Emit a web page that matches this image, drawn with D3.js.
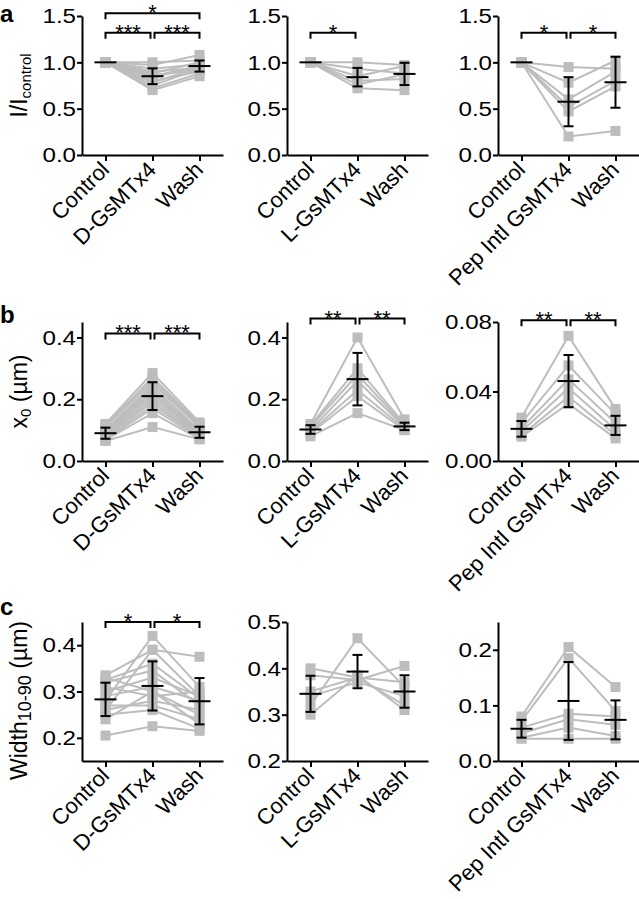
<!DOCTYPE html>
<html>
<head>
<meta charset="utf-8">
<script src="https://cdn.jsdelivr.net/npm/d3@7"></script>
<style>
  body { margin: 0; background: #fff; }
  svg { display: block; font-family: "Liberation Sans", Arial, sans-serif; }
</style>
</head>
<body>
<svg id="fig" width="639" height="899"></svg>
<script>
// categories
const catsD = ["Control", "D-GsMTx4", "Wash"];
const catsL = ["Control", "L-GsMTx4", "Wash"];
const catsP = ["Control", "Pep Intl GsMTx4", "Wash"];

// row a: I / I control
const aDControl = [1, 1, 1, 1, 1, 1, 1, 1, 1, 1, 1, 1, 1];
const aDToxin = [1.0, 0.97, 0.93, 0.90, 0.88, 0.86, 0.85, 0.83, 0.80, 0.78, 0.75, 0.72, 0.70];
const aDWash = [1.02, 1.08, 0.98, 0.94, 1.0, 0.92, 0.96, 0.97, 0.90, 0.95, 0.93, 0.88, 0.85];
const aDMean = [1.0, 0.85, 0.96];
const aDSd = [0, 0.085, 0.06];

const aLControl = [1, 1, 1, 1, 1, 1];
const aLToxin = [1.0, 0.93, 0.85, 0.80, 0.76, 0.72];
const aLWash = [0.97, 0.88, 0.96, 0.82, 0.87, 0.70];
const aLMean = [1.0, 0.84, 0.875];
const aLSd = [0, 0.10, 0.12];

const aPControl = [1, 1, 1, 1, 1, 1];
const aPToxin = [0.95, 0.78, 0.60, 0.52, 0.47, 0.20];
const aPWash = [0.93, 1.02, 0.90, 0.80, 0.74, 0.26];
const aPMean = [1.0, 0.575, 0.785];
const aPSd = [0, 0.265, 0.275];

// row b: x0 (um)
const bDControl = [0.12, 0.115, 0.11, 0.10, 0.095, 0.09, 0.09, 0.085, 0.08, 0.08, 0.075, 0.07, 0.068, 0.065];
const bDToxin = [0.285, 0.27, 0.26, 0.25, 0.24, 0.23, 0.22, 0.21, 0.20, 0.19, 0.18, 0.17, 0.155, 0.11];
const bDWash = [0.125, 0.12, 0.115, 0.11, 0.10, 0.095, 0.09, 0.09, 0.085, 0.08, 0.08, 0.075, 0.072, 0.07];
const bDMean = [0.09, 0.21, 0.093];
const bDSd = [0.018, 0.045, 0.018];

const bLControl = [0.12, 0.115, 0.11, 0.10, 0.095, 0.09, 0.08];
const bLToxin = [0.40, 0.30, 0.28, 0.26, 0.23, 0.21, 0.155];
const bLWash = [0.135, 0.12, 0.115, 0.11, 0.105, 0.10, 0.10];
const bLMean = [0.102, 0.265, 0.112];
const bLSd = [0.014, 0.085, 0.012];

const bPControl = [0.025, 0.022, 0.019, 0.017, 0.015, 0.014];
const bPToxin = [0.072, 0.055, 0.047, 0.042, 0.037, 0.033];
const bPWash = [0.030, 0.027, 0.022, 0.018, 0.015, 0.013];
const bPMean = [0.0185, 0.046, 0.0205];
const bPSd = [0.0045, 0.015, 0.0055];

// row c: Width 10-90 (um)
const cDControl = [0.205, 0.24, 0.25, 0.26, 0.26, 0.27, 0.28, 0.29, 0.30, 0.31, 0.32, 0.325, 0.33, 0.335];
const cDToxin = [0.225, 0.30, 0.26, 0.39, 0.28, 0.27, 0.42, 0.31, 0.33, 0.29, 0.345, 0.36, 0.30, 0.39];
const cDWash = [0.215, 0.25, 0.22, 0.375, 0.26, 0.24, 0.31, 0.28, 0.29, 0.30, 0.27, 0.285, 0.23, 0.29];
const cDMean = [0.283, 0.312, 0.279];
const cDSd = [0.036, 0.053, 0.05];

const cLControl = [0.30, 0.32, 0.34, 0.35, 0.385, 0.40];
const cLToxin = [0.385, 0.465, 0.37, 0.38, 0.375, 0.38];
const cLWash = [0.31, 0.36, 0.34, 0.32, 0.405, 0.37];
const cLMean = [0.345, 0.393, 0.35];
const cLSd = [0.039, 0.036, 0.035];

const cPControl = [0.08, 0.072, 0.06, 0.05, 0.042, 0.04];
const cPToxin = [0.205, 0.185, 0.085, 0.075, 0.06, 0.04];
const cPWash = [0.133, 0.09, 0.08, 0.065, 0.045, 0.04];
const cPMean = [0.058, 0.108, 0.074];
const cPSd = [0.016, 0.07, 0.035];

// tick values
const ticksA = [0, 0.5, 1.0, 1.5];
const ticksB = [0, 0.2, 0.4];
const ticksBP = [0, 0.04, 0.08];
const ticksCD = [0.2, 0.3, 0.4];
const ticksCL = [0.2, 0.3, 0.4, 0.5];
const ticksCP = [0, 0.1, 0.2];

// significance brackets (level in data units)
const sigAD = [{ from: 0, to: 2, level: 1.53, label: "*" }, { from: 0, to: 1, level: 1.32, label: "***" }, { from: 1, to: 2, level: 1.32, label: "***" }];
const sigAL = [{ from: 0, to: 1, level: 1.32, label: "*" }];
const sigAP = [{ from: 0, to: 1, level: 1.32, label: "*" }, { from: 1, to: 2, level: 1.32, label: "*" }];
const sigBD = [{ from: 0, to: 1, level: 0.413, label: "***" }, { from: 1, to: 2, level: 0.413, label: "***" }];
const sigBL = [{ from: 0, to: 1, level: 0.461, label: "**" }, { from: 1, to: 2, level: 0.461, label: "**" }];
const sigBP = [{ from: 0, to: 1, level: 0.081, label: "**" }, { from: 1, to: 2, level: 0.081, label: "**" }];
const sigCD = [{ from: 0, to: 1, level: 0.45, label: "*" }, { from: 1, to: 2, level: 0.45, label: "*" }];

const panels = [
  { row: 0, col: 0, cats: catsD, vals: [aDControl, aDToxin, aDWash], mean: aDMean, sd: aDSd, domain: [0, 1.5], ticks: ticksA, fmt: ".1f", sig: sigAD },
  { row: 0, col: 1, cats: catsL, vals: [aLControl, aLToxin, aLWash], mean: aLMean, sd: aLSd, domain: [0, 1.5], ticks: ticksA, fmt: ".1f", sig: sigAL },
  { row: 0, col: 2, cats: catsP, vals: [aPControl, aPToxin, aPWash], mean: aPMean, sd: aPSd, domain: [0, 1.5], ticks: ticksA, fmt: ".1f", sig: sigAP },
  { row: 1, col: 0, cats: catsD, vals: [bDControl, bDToxin, bDWash], mean: bDMean, sd: bDSd, domain: [0, 0.45], ticks: ticksB, fmt: ".1f", sig: sigBD },
  { row: 1, col: 1, cats: catsL, vals: [bLControl, bLToxin, bLWash], mean: bLMean, sd: bLSd, domain: [0, 0.45], ticks: ticksB, fmt: ".1f", sig: sigBL },
  { row: 1, col: 2, cats: catsP, vals: [bPControl, bPToxin, bPWash], mean: bPMean, sd: bPSd, domain: [0, 0.08], ticks: ticksBP, fmt: ".2f", sig: sigBP },
  { row: 2, col: 0, cats: catsD, vals: [cDControl, cDToxin, cDWash], mean: cDMean, sd: cDSd, domain: [0.15, 0.45], ticks: ticksCD, fmt: ".1f", sig: sigCD },
  { row: 2, col: 1, cats: catsL, vals: [cLControl, cLToxin, cLWash], mean: cLMean, sd: cLSd, domain: [0.2, 0.5], ticks: ticksCL, fmt: ".1f", sig: [] },
  { row: 2, col: 2, cats: catsP, vals: [cPControl, cPToxin, cPWash], mean: cPMean, sd: cPSd, domain: [0, 0.25], ticks: ticksCP, fmt: ".1f", sig: [] }
];

// layout
const colX = [82, 287, 498];
const plotW = 141;
const rowTop = [16, 322, 622];
const rowBottom = [155, 461, 761];
const grey = "#bdbdbd";

const svg = d3.select("#fig");

panels.forEach((p) => {
  const left = colX[p.col];
  const top = rowTop[p.row];
  const bottom = rowBottom[p.row];

  const x = d3.scalePoint().domain(p.cats).range([left, left + plotW]).padding(0.5);
  const y = d3.scaleLinear().domain(p.domain).range([bottom, top]);

  const g = svg.append("g");

  // paired lines
  const n = p.vals[0].length;
  const line = d3.line().x((d) => x(d.cat)).y((d) => y(d.v));
  for (let i = 0; i < n; i++) {
    const pts = p.cats.map((cat, j) => ({ cat, v: p.vals[j][i] }));
    g.append("path")
      .attr("d", line(pts))
      .attr("fill", "none")
      .attr("stroke", grey)
      .attr("stroke-width", 2);
  }

  // squares
  p.cats.forEach((cat, j) => {
    g.append("g")
      .selectAll("rect")
      .data(p.vals[j])
      .enter()
      .append("rect")
      .attr("x", x(cat) - 5)
      .attr("y", (d) => y(d) - 5)
      .attr("width", 10)
      .attr("height", 10)
      .attr("fill", grey);
  });

  // mean +/- sd
  p.cats.forEach((cat, j) => {
    const cx = x(cat);
    const m = p.mean[j];
    const s = p.sd[j];
    const eg = g.append("g").attr("stroke", "#000").attr("stroke-width", 2);
    eg.append("line").attr("x1", cx - 11).attr("x2", cx + 11).attr("y1", y(m)).attr("y2", y(m));
    if (s > 0) {
      eg.append("line").attr("x1", cx).attr("x2", cx).attr("y1", y(m - s)).attr("y2", y(m + s));
      eg.append("line").attr("x1", cx - 5).attr("x2", cx + 5).attr("y1", y(m - s)).attr("y2", y(m - s));
      eg.append("line").attr("x1", cx - 5).attr("x2", cx + 5).attr("y1", y(m + s)).attr("y2", y(m + s));
    }
  });

  // y axis
  const ya = g.append("g")
    .attr("transform", `translate(${left},0)`)
    .call(d3.axisLeft(y).tickValues(p.ticks).tickFormat(d3.format(p.fmt)).tickSize(5).tickSizeOuter(0));
  ya.select(".domain").attr("stroke-width", 2);
  ya.selectAll(".tick line").attr("stroke-width", 2);
  ya.selectAll(".tick text")
    .attr("font-size", 21)
    .attr("font-family", "Liberation Sans, Arial, sans-serif")
    .attr("fill", "#000")
    .attr("x", -6 / 1.15)
    .attr("transform", "scale(1.15,1)");

  // x axis
  const xa = g.append("g")
    .attr("transform", `translate(0,${bottom})`)
    .call(d3.axisBottom(x).tickSize(6).tickSizeOuter(0).tickFormat(""));
  xa.select(".domain").attr("stroke-width", 2);
  xa.selectAll(".tick line").attr("stroke-width", 2);

  p.cats.forEach((cat) => {
    g.append("text")
      .attr("transform", `translate(${x(cat) + 5},${bottom + 16}) rotate(-45)`)
      .attr("text-anchor", "end")
      .attr("font-size", 22)
      .text(cat);
  });

  // significance brackets
  p.sig.forEach((s) => {
    let x1 = x(p.cats[s.from]);
    let x2 = x(p.cats[s.to]);
    if (s.to - s.from === 1) {
      if (s.from === 1) x1 += 2;
      if (s.to === 1) x2 -= 2;
    }
    const by = y(s.level);
    g.append("path")
      .attr("d", `M${x1},${by + 6}V${by}H${x2}V${by + 6}`)
      .attr("fill", "none")
      .attr("stroke", "#000")
      .attr("stroke-width", 2);
    g.append("text")
      .attr("x", (x1 + x2) / 2)
      .attr("y", by + 7)
      .attr("text-anchor", "middle")
      .attr("font-size", 22)
      .text(s.label);
  });
});

// y titles
const titleX = 27;
function yTitle(row, main, sub, rest, subSize, shift) {
  const cy = (rowTop[row] + rowBottom[row]) / 2 + shift;
  const t = svg.append("text")
    .attr("transform", `translate(${titleX},${cy}) rotate(-90)`)
    .attr("text-anchor", "middle")
    .attr("font-size", 23);
  t.append("tspan").text(main);
  t.append("tspan").attr("font-size", subSize).attr("dy", 4).text(sub);
  if (rest) t.append("tspan").attr("dy", -4).text(rest);
}
yTitle(0, "I/I", "control", "", 15, 0);
yTitle(1, "x", "0", " (\u00b5m)", 15, 0);
yTitle(2, "Width", "10-90", " (\u00b5m)", 18, 9);

// panel letters
const letters = ["a", "b", "c"];
const letterY = [22, 323, 615];
letters.forEach((l, i) => {
  svg.append("text")
    .attr("x", 0)
    .attr("y", letterY[i])
    .attr("font-size", 24)
    .attr("font-weight", "bold")
    .text(l);
});
</script>
</body>
</html>
